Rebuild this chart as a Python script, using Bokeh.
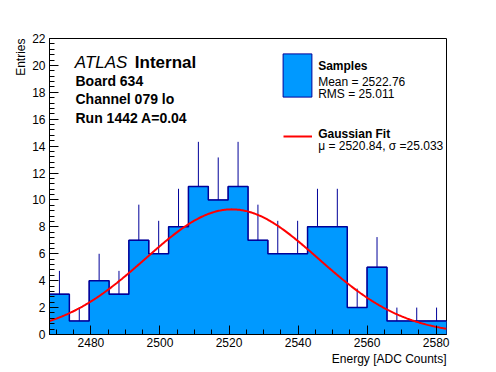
import numpy as np
from bokeh.plotting import figure
from bokeh.models import Label, Legend, LegendItem, SingleIntervalTicker, Range1d, Title
from bokeh.core.properties import value
from bokeh.embed import file_html
from bokeh.resources import INLINE

# ---- data ----
x_min, x_max = 2468.0, 2583.0
bin_width = 5.75
counts = [3, 1, 4, 3, 7, 6, 8, 11, 10, 11, 7, 6, 6, 8, 8, 2, 5, 1, 1, 1]
errors = [1.73, 1.0, 2.0, 1.73, 2.65, 2.45, 2.83, 3.32, 3.16, 3.32,
          2.65, 2.45, 2.45, 2.83, 2.83, 1.41, 2.24, 1.0, 1.0, 1.0]
fit_mu = 2520.84
fit_sigma = 25.033
fit_amp = 9.3
sample_mean = 2522.76
sample_rms = 25.011
info_lines = ["Board 634", "Channel 079 lo", "Run 1442 A=0.04"]
x_title = "Energy [ADC Counts]"
y_title = "Entries"

FONT = "Liberation Sans"
FILL = "#0099ff"
NAVY = "#000099"
RED = "#ff0000"

edges = x_min + bin_width * np.arange(len(counts) + 1)
left = edges[:-1]
right = edges[1:]
centers = 0.5 * (left + right)
cnt = np.array(counts, dtype=float)
err = np.array(errors, dtype=float)
cnt_ext = np.append(cnt, cnt[-1])

p = figure(width=496, height=372, x_range=Range1d(x_min, x_max), y_range=Range1d(0, 22),
           output_backend="svg", toolbar_location=None,
           min_border_left=49, min_border_right=50, min_border_top=38, min_border_bottom=38)
p.xgrid.visible = False
p.ygrid.visible = False
p.outline_line_color = "black"
p.outline_line_width = 1
p.background_fill_color = "white"
p.border_fill_color = "white"

# error bars (upper part visible)
p.segment(x0=centers, y0=cnt, x1=centers, y1=cnt + err, line_color=NAVY, line_width=1)
# outlined bins (also the legend swatch), covered by a seamless fill
hist_r = p.quad(left=left, right=right, bottom=0, top=cnt, fill_color=FILL,
                line_color=NAVY, line_width=1)
p.varea_step(x=edges, y1=np.zeros_like(cnt_ext), y2=cnt_ext, step_mode="after", fill_color=FILL)
# outline
p.step(x=edges, y=cnt_ext, mode="after", line_color=NAVY, line_width=1.5)

# gaussian fit
gx = np.linspace(x_min, x_max, 400)
gy = fit_amp * np.exp(-0.5 * ((gx - fit_mu) / fit_sigma) ** 2)
fit_r = p.line(gx, gy, line_color=RED, line_width=2)

leg1 = Legend(items=[LegendItem(label=value(""), renderers=[hist_r])],
              location=(230, 232), glyph_width=36, glyph_height=54, padding=0, margin=0,
              spacing=0, label_standoff=0, label_width=0, label_height=0,
              border_line_alpha=0, background_fill_alpha=0)
leg2 = Legend(items=[LegendItem(label=value(""), renderers=[fit_r])],
              location=(234, 188), glyph_width=29, glyph_height=20, padding=0, margin=0,
              spacing=0, label_standoff=0, label_width=0, label_height=0,
              border_line_alpha=0, background_fill_alpha=0)
p.add_layout(leg1)
p.add_layout(leg2)

# axes
p.xaxis.ticker = SingleIntervalTicker(interval=20, num_minor_ticks=4)
p.yaxis.ticker = SingleIntervalTicker(interval=2, num_minor_ticks=5)
for ax in (p.xaxis[0], p.yaxis[0]):
    ax.major_tick_in = 9
    ax.major_tick_out = 0
    ax.minor_tick_in = 5
    ax.minor_tick_out = 0
    ax.axis_line_color = "black"
    ax.major_tick_line_color = "black"
    ax.minor_tick_line_color = "black"
    ax.major_label_text_font = FONT
    ax.major_label_text_font_size = "12px"
    ax.major_label_text_color = "black"
p.xaxis.major_label_standoff = 3
p.yaxis.major_label_standoff = 4

# axis titles, right/top aligned as in ROOT
p.add_layout(Title(text=x_title, align="right", text_font=FONT, text_font_size="12px",
                   text_font_style="normal", text_color="black", standoff=0), "below")
p.add_layout(Title(text=y_title, align="right", text_font=FONT, text_font_size="12px",
                   text_font_style="normal", text_color="black", standoff=4), "left")

def add_text(x, y, text, size="12px", style="normal", align="left"):
    p.add_layout(Label(x=x, y=y, text=text, text_font=FONT, text_font_size=size,
                       text_font_style=style, text_align=align, text_baseline="alphabetic",
                       text_color="black"))

add_text(2475.33, 20.19, "ATLAS", size="17px", style="italic")
add_text(2492.71, 20.19, "Internal", size="17px", style="bold")
for t, yy in zip(info_lines, [18.83, 17.49, 16.11]):
    add_text(2475.53, yy, t, size="14px", style="bold")

add_text(2545.83, 19.99, "Samples", style="bold")
add_text(2545.83, 18.80, "Mean = %.2f" % sample_mean)
add_text(2545.83, 17.84, "RMS = %.3f" % sample_rms)
add_text(2545.83, 14.89, "Gaussian Fit", style="bold")
add_text(2545.83, 14.03, "\u03bc = %.2f, \u03c3 =%.3f" % (fit_mu, fit_sigma))

open("out.html", "w").write(file_html(p, INLINE))
